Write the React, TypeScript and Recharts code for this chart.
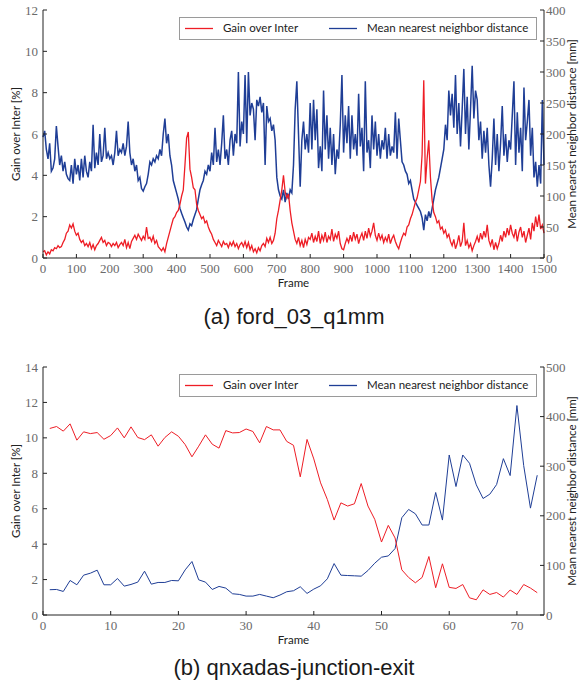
import { LineChart, Line, XAxis, YAxis } from 'recharts';

// (a) ford_03_q1mm, one sample every 5 frames (0..1500)
const FRAME_STEP_A = 5;

const gainA = [
  0.3, 0.35, 0.15, 0.3, 0.2, 0.4, 0.35, 0.5, 0.45, 0.6, 0.5, 0.55, 0.75, 0.9, 1.2, 1.3, 1.6, 1.45, 1.65, 1.3,
  1.1, 1.2, 0.9, 0.75, 0.85, 0.6, 0.7, 0.55, 0.75, 0.45, 0.65, 0.4, 0.6, 0.7, 0.85, 1.0, 0.75, 0.85, 0.6, 0.75,
  0.7, 0.55, 0.7, 0.6, 0.75, 0.5, 0.65, 0.75, 0.6, 0.9, 0.5, 0.75, 0.45, 0.8, 0.95, 1.1, 0.9, 1.15, 1.0, 0.85,
  1.05, 0.9, 1.5, 0.95, 1.0, 0.8, 1.05, 0.7, 0.85, 0.55, 0.45, 0.35, 0.5, 0.3, 0.7, 1.0, 1.3, 1.6, 1.9, 2.0,
  2.2, 2.3, 2.6, 3.0, 3.3, 4.5, 5.8, 6.1, 4.3, 3.9, 3.4, 3.3, 2.6, 2.3, 2.1, 1.9, 2.0, 1.7, 1.8, 1.5,
  1.3, 1.15, 0.9, 0.75, 0.6, 0.85, 0.7, 0.55, 0.8, 0.65, 0.7, 0.5, 0.75, 0.6, 0.8, 0.55, 0.7, 0.45, 0.65, 0.75,
  0.55, 0.8, 0.5, 0.75, 0.4, 0.6, 0.3, 0.45, 0.25, 0.5, 0.35, 0.6, 0.7, 0.55, 0.95, 0.75, 1.0, 0.7, 0.85, 1.2,
  1.9, 2.3, 2.8, 3.3, 4.0, 3.2, 2.9, 3.1, 2.3, 1.7, 1.3, 0.9, 0.7, 1.0, 0.6, 0.85, 0.5, 0.9, 0.65, 1.0,
  0.9, 1.2, 0.75, 1.05, 0.8, 1.3, 0.7, 1.1, 0.85, 1.25, 0.75, 1.05, 0.9, 1.4, 0.8, 1.15, 0.95, 1.3, 0.7, 0.45,
  0.4, 0.7, 0.95, 0.75, 1.1, 0.8, 1.25, 0.9, 1.15, 0.7, 1.0, 1.2, 0.85, 1.3, 0.95, 1.45, 1.05, 1.3, 1.7, 1.1,
  0.85, 1.2, 0.9, 1.1, 0.75, 1.0, 0.8, 1.15, 0.7, 0.95, 1.1, 0.8, 0.6, 0.45, 0.75, 1.0, 1.2, 1.1, 1.5, 1.6,
  1.9, 2.1, 2.4, 2.7, 2.9, 3.3, 3.7, 5.0, 8.6, 3.6, 4.8, 5.7, 3.9, 2.8, 2.2, 2.0, 1.7, 1.8, 1.4, 1.5,
  1.2, 1.35, 1.0, 1.15, 0.8, 0.6, 0.9, 0.45, 0.7, 1.1, 0.55, 0.8, 1.7, 0.6, 0.85, 0.5, 0.7, 0.35, 0.6, 0.8,
  1.05, 0.75, 1.2, 0.9, 1.3, 1.0, 1.6, 0.85, 0.6, 0.9, 0.4, 0.75, 0.45, 0.7, 1.1, 0.8, 1.3, 1.0, 1.45, 1.1,
  1.6, 1.2, 1.0, 1.4, 0.8, 1.25, 1.5, 1.0, 1.3, 0.75, 1.1, 1.45, 0.9, 1.7, 1.3, 2.0, 1.5, 2.1, 1.4, 1.6,
  1.2,
];

const distA = [
  195, 205, 175, 160, 185, 140, 145, 160, 213, 180, 150, 165, 140, 155, 135, 128, 125, 150, 120, 160,
  135, 150, 125, 160, 130, 165, 140, 130, 155, 140, 215, 145, 170, 150, 200, 155, 165, 210, 160, 170,
  160, 165, 150, 170, 205, 165, 175, 170, 185, 165, 180, 220, 170, 150, 160, 140, 150, 125, 130, 112,
  108, 115, 120, 135, 155, 150, 160, 155, 165, 160, 175, 165, 200, 225, 185, 200, 165, 150, 125, 115,
  105, 95, 80, 72, 65, 58, 50, 45, 55, 52, 62, 70, 78, 95, 110, 118, 125, 140, 135, 150,
  140, 170, 150, 210, 155, 175, 150, 185, 230, 160, 175, 150, 190, 205, 165, 200, 185, 300, 180, 220,
  200, 295, 185, 300, 230, 250, 240, 190, 255, 245, 260, 235, 250, 150, 245, 220, 225, 205, 215, 190,
  130, 110, 100, 95, 110, 90, 105, 95, 110, 105, 150, 240, 285, 200, 115, 190, 220, 175, 200, 170,
  250, 175, 255, 190, 240, 145, 180, 140, 270, 175, 230, 160, 210, 150, 200, 135, 175, 160, 215, 295,
  170, 230, 185, 245, 160, 230, 175, 200, 165, 265, 180, 210, 140, 285, 170, 190, 145, 230, 175, 220,
  165, 200, 160, 190, 175, 210, 160, 200, 165, 180, 170, 235, 160, 225, 190, 155, 150, 140, 135, 120,
  125, 110, 95, 90, 85, 80, 75, 65, 45, 70, 60, 75, 65, 80, 95, 110, 120, 130, 145, 160,
  175, 215, 190, 270, 230, 265, 210, 295, 200, 250, 180, 240, 305, 200, 260, 175, 240, 310, 225, 270,
  255, 190, 220, 160, 205, 170, 210, 150, 115, 160, 225, 150, 200, 140, 185, 245, 165, 200, 155, 190,
  175, 230, 285, 150, 235, 170, 210, 140, 275, 190, 220, 255, 165, 210, 130, 155, 115, 150, 120, 255,
  150,
];

// (b) qnxadas-junction-exit, frames 1..73
const gainB = [
  10.53, 10.64, 10.38, 10.79, 9.87, 10.34, 10.24, 10.3, 9.92, 10.13,
  10.56, 10.0, 10.62, 10.02, 9.9, 10.17, 9.53, 10.02, 10.34, 10.09,
  9.62, 8.93, 9.53, 10.17, 9.64, 9.42, 10.41, 10.28, 10.3, 10.5,
  10.36, 9.72, 10.64, 10.45, 10.45, 9.8, 9.58, 7.8, 9.91, 8.81,
  7.46, 6.52, 5.36, 6.33, 6.15, 6.28, 7.42, 6.15, 5.4, 4.12,
  5.06, 4.35, 2.55, 2.12, 1.82, 2.12, 3.3, 1.54, 2.89, 1.56,
  1.5, 1.72, 0.97, 0.86, 1.42, 1.16, 1.27, 1.01, 1.41, 1.16,
  1.72, 1.52, 1.26,
];

const distB = [
  51, 51.5, 47.5, 69.6, 60.9, 80.3, 84.3, 90.4, 60.9, 60.9,
  73.6, 58.2, 61.6, 66.3, 88.3, 62.2, 65.6, 65.6, 69.6, 68.9,
  91, 107.8, 70.9, 66.3, 51.5, 57.6, 54.2, 42.8, 41.5, 38.1,
  38.1, 41.5, 38.1, 34.8, 40.2, 46.9, 48.9, 56.9, 43.5, 52.2,
  58.9, 73, 103.7, 80.3, 79.6, 79, 78.3, 89.7, 104.4, 116.5,
  119.1, 133.9, 196.1, 212.8, 204.1, 181.4, 181.4, 247, 191.4, 322.6,
  259, 322.6, 305.9, 262.4, 234.9, 243.6, 263, 315.2, 281.1, 422.3,
  301.2, 215.5, 281.8,
];

const ticksXA = [0, 100, 200, 300, 400, 500, 600, 700, 800, 900, 1000, 1100, 1200, 1300, 1400, 1500];
const ticksLeftA = [0, 2, 4, 6, 8, 10, 12];
const ticksRightA = [0, 50, 100, 150, 200, 250, 300, 350, 400];
const ticksXB = [0, 10, 20, 30, 40, 50, 60, 70];
const ticksLeftB = [0, 2, 4, 6, 8, 10, 12, 14];
const ticksRightB = [0, 100, 200, 300, 400, 500];

const dataA = gainA.map((g, i) => ({ frame: i * FRAME_STEP_A, gain: g, dist: distA[i] }));
const dataB = gainB.map((g, i) => ({ frame: i + 1, gain: g, dist: distB[i] }));

const RED = '#ee1d25';
const BLUE = '#1f3e96';
const AXIS = '#222';
const SANS = 'Lato, "DejaVu Sans", sans-serif';
const SERIF = '"Liberation Serif", serif';

const tickStyle = { fill: '#6a6a6a', fontSize: 13, fontFamily: SERIF };
const labelStyle = { fill: '#222', fontSize: 11.5, fontFamily: SANS, textAnchor: 'middle' as const };

function Legend() {
  return (
    <div
      style={{
        position: 'absolute', left: 179, top: 7, width: 356, height: 21,
        border: '1px solid #9a9a9a', background: '#fff',
        fontFamily: SANS, fontSize: 11.5, color: '#222',
      }}
    >
      <svg width={356} height={21} style={{ position: 'absolute', left: 0, top: 0 }}>
        <line x1={5} x2={33} y1={10.5} y2={10.5} stroke={RED} strokeWidth={1.3} />
        <line x1={149} x2={177} y1={10.5} y2={10.5} stroke={BLUE} strokeWidth={1.3} />
      </svg>
      <div style={{ position: 'absolute', left: 43, top: 3, lineHeight: '14px', whiteSpace: 'nowrap' }}>Gain over Inter</div>
      <div style={{ position: 'absolute', left: 187, top: 3, lineHeight: '14px', whiteSpace: 'nowrap' }}>Mean nearest neighbor distance</div>
    </div>
  );
}

type PanelProps = {
  data: { frame: number; gain: number; dist: number }[];
  xDomain: [number, number];
  xTicks: number[];
  leftDomain: [number, number];
  leftTicks: number[];
  rightDomain: [number, number];
  rightTicks: number[];
  redWidth: number;
  blueWidth: number;
};

function Panel(p: PanelProps) {
  return (
    <LineChart width={579} height={295} data={p.data} margin={{ top: 10, right: 0, bottom: 0, left: 0 }}>
      <XAxis
        dataKey="frame" type="number" domain={p.xDomain} ticks={p.xTicks} interval={0}
        height={37} tickSize={-4} tickMargin={10} tick={tickStyle}
        axisLine={{ stroke: AXIS }} tickLine={{ stroke: AXIS }}
        label={{ value: 'Frame', position: 'insideBottom', offset: 8, style: labelStyle }}
      />
      <XAxis
        xAxisId="top" orientation="top" dataKey="frame" type="number" domain={p.xDomain} ticks={p.xTicks}
        interval={0} height={0} tickSize={-4} tick={false}
        axisLine={{ stroke: AXIS }} tickLine={{ stroke: AXIS }}
      />
      <YAxis
        yAxisId="left" domain={p.leftDomain} ticks={p.leftTicks} interval={0} width={43}
        tickSize={-4} tickMargin={9} tick={tickStyle}
        axisLine={{ stroke: AXIS }} tickLine={{ stroke: AXIS }}
        label={{ value: 'Gain over Inter [%]', angle: -90, position: 'insideLeft', offset: 16, style: labelStyle }}
      />
      <YAxis
        yAxisId="right" orientation="right" domain={p.rightDomain} ticks={p.rightTicks} interval={0} width={35}
        tickSize={-4} tickMargin={6} tick={{ ...tickStyle, textAnchor: 'start' }}
        axisLine={{ stroke: AXIS }} tickLine={{ stroke: AXIS }}
        label={{ value: 'Mean nearest neighbor distance [mm]', angle: -90, position: 'insideRight', offset: 7, style: labelStyle }}
      />
      <Line
        yAxisId="right" type="linear" dataKey="dist" stroke={BLUE} strokeWidth={p.blueWidth}
        dot={false} activeDot={false} isAnimationActive={false}
      />
      <Line
        yAxisId="left" type="linear" dataKey="gain" stroke={RED} strokeWidth={p.redWidth}
        dot={false} activeDot={false} isAnimationActive={false}
      />
    </LineChart>
  );
}

const captionStyle = {
  position: 'absolute' as const, left: 0, width: 588, textAlign: 'center' as const,
  fontFamily: '"Liberation Sans", Arial, sans-serif', fontSize: 22, lineHeight: '22px', color: '#1a1a1a',
};

export default function App() {
  return (
    <div style={{ position: 'absolute', left: 0, top: 0, width: 579, height: 686, background: '#fff', overflow: 'hidden' }}>
      <div style={{ position: 'absolute', left: 0, top: 0, width: 579, height: 295 }}>
        <Panel
          data={dataA} xDomain={[0, 1500]} xTicks={ticksXA}
          leftDomain={[0, 12]} leftTicks={ticksLeftA}
          rightDomain={[0, 400]} rightTicks={ticksRightA} redWidth={1.3} blueWidth={1.5}
        />
        <div style={{ position: 'absolute', left: 0, top: 10 }}><Legend /></div>
      </div>
      <div style={{ ...captionStyle, top: 306 }}>(a) ford_03_q1mm</div>
      <div style={{ position: 'absolute', left: 0, top: 357, width: 579, height: 295 }}>
        <Panel
          data={dataB} xDomain={[0, 74]} xTicks={ticksXB}
          leftDomain={[0, 14]} leftTicks={ticksLeftB}
          rightDomain={[0, 500]} rightTicks={ticksRightB} redWidth={1} blueWidth={1}
        />
        <div style={{ position: 'absolute', left: 0, top: 10 }}><Legend /></div>
      </div>
      <div style={{ ...captionStyle, top: 657 }}>(b) qnxadas-junction-exit</div>
    </div>
  );
}
